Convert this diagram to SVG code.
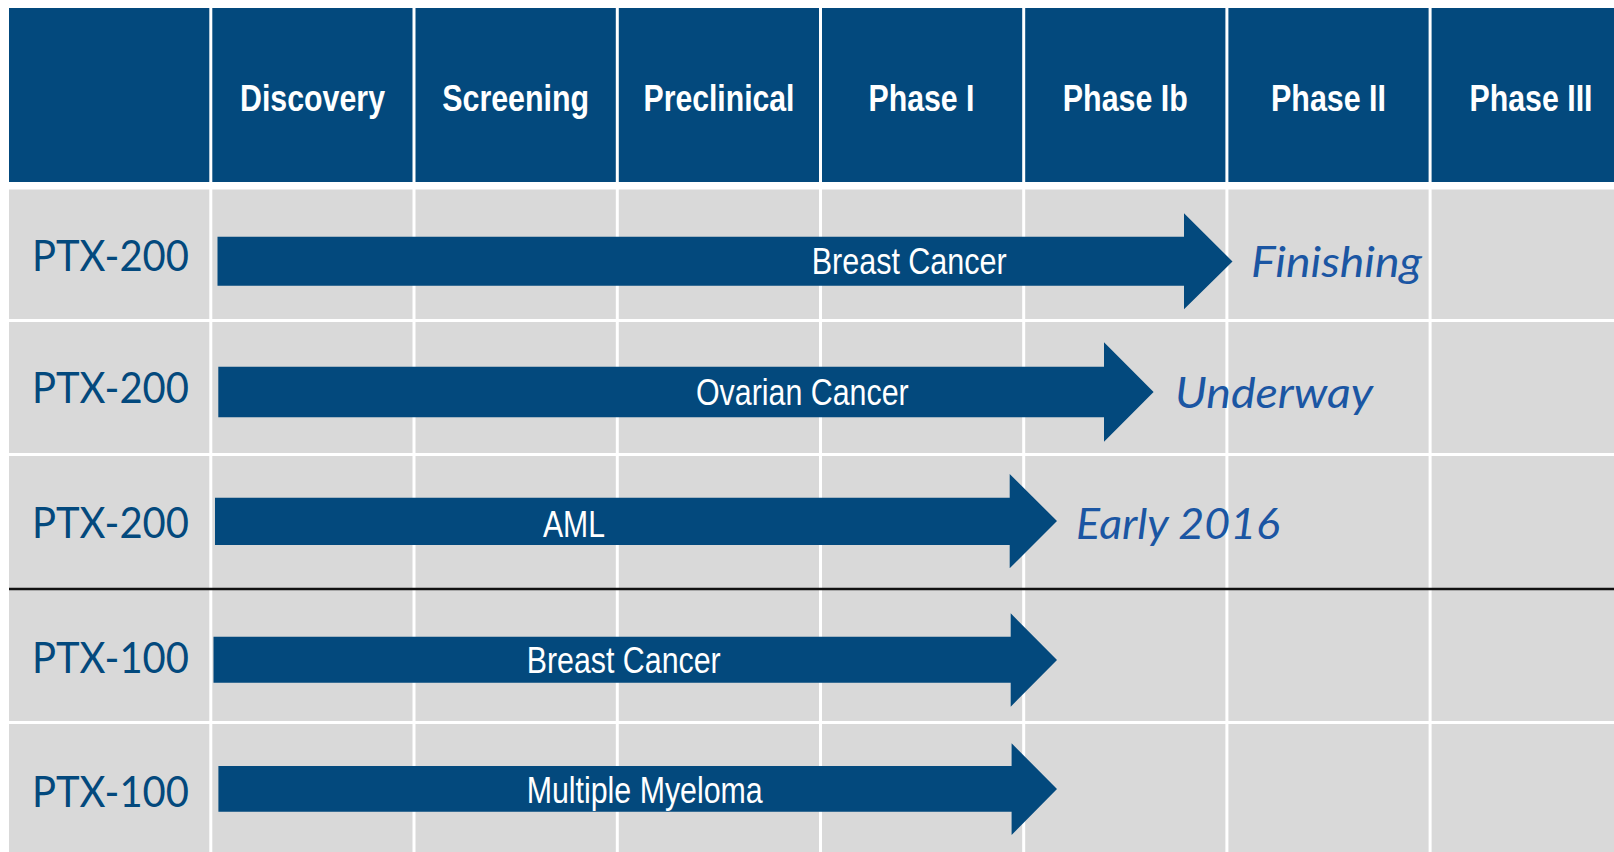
<svg xmlns="http://www.w3.org/2000/svg" width="1614" height="852" viewBox="0 0 1614 852">
<style>
.hdr{fill:#03497d}
.cell{fill:#d9d9d9}
.grid{stroke:#ffffff;stroke-width:3}
.sep{stroke:#111111;stroke-width:2.5}
.bar{fill:#03497d}
.htxt{font-family:"Liberation Sans Narrow","Liberation Sans",Arial,sans-serif;font-weight:bold;font-size:37px;fill:#ffffff;text-anchor:middle}
.rlab{font-family:Lato,"Open Sans","Noto Sans",sans-serif;font-size:42px;fill:#03497d}
.btxt{font-family:"Liberation Sans Narrow","Liberation Sans",Arial,sans-serif;font-size:36px;fill:#ffffff}
.itxt{font-family:Lato,"Open Sans","Noto Sans",sans-serif;font-style:italic;font-size:42px;fill:#1b56a3}
</style>
<rect x="0" y="0" width="1614" height="852" fill="#ffffff"/>
<g id="background">
<rect class="hdr" x="9" y="8" width="1605" height="174"/>
<rect class="cell" x="9" y="189.5" width="1605" height="662.5"/>
<g id="grid-lines">
<line class="grid" x1="210.8" y1="0" x2="210.8" y2="852"/>
<line class="grid" x1="414" y1="0" x2="414" y2="852"/>
<line class="grid" x1="617.3" y1="0" x2="617.3" y2="852"/>
<line class="grid" x1="820.5" y1="0" x2="820.5" y2="852"/>
<line class="grid" x1="1023.7" y1="0" x2="1023.7" y2="852"/>
<line class="grid" x1="1226.9" y1="0" x2="1226.9" y2="852"/>
<line class="grid" x1="1430.1" y1="0" x2="1430.1" y2="852"/>
<line class="grid" x1="0" y1="320.5" x2="1614" y2="320.5"/>
<line class="grid" x1="0" y1="454.5" x2="1614" y2="454.5"/>
<line class="grid" x1="0" y1="722.5" x2="1614" y2="722.5"/>
<line class="sep" x1="9" y1="589" x2="1614" y2="589"/>
</g>
</g>
<g id="header">
<g id="h-discovery"><text class="htxt" x="312.5" y="111" textLength="145" lengthAdjust="spacingAndGlyphs">Discovery</text></g>
<g id="h-screening"><text class="htxt" x="515.7" y="111" textLength="147" lengthAdjust="spacingAndGlyphs">Screening</text></g>
<g id="h-preclinical"><text class="htxt" x="719" y="111" textLength="151" lengthAdjust="spacingAndGlyphs">Preclinical</text></g>
<g id="h-phase1"><text class="htxt" x="921.5" y="111" textLength="106" lengthAdjust="spacingAndGlyphs">Phase I</text></g>
<g id="h-phase1b"><text class="htxt" x="1125.3" y="111" textLength="125" lengthAdjust="spacingAndGlyphs">Phase Ib</text></g>
<g id="h-phase2"><text class="htxt" x="1328.5" y="111" textLength="115" lengthAdjust="spacingAndGlyphs">Phase II</text></g>
<g id="h-phase3"><text class="htxt" x="1531" y="111" textLength="123" lengthAdjust="spacingAndGlyphs">Phase III</text></g>
</g>
<g id="row-labels">
<g id="r1"><text class="rlab" x="32" y="270.7" textLength="157" lengthAdjust="spacingAndGlyphs">PTX-200</text></g>
<g id="r2"><text class="rlab" x="32" y="403.3" textLength="157" lengthAdjust="spacingAndGlyphs">PTX-200</text></g>
<g id="r3"><text class="rlab" x="32" y="538.3" textLength="157" lengthAdjust="spacingAndGlyphs">PTX-200</text></g>
<g id="r4"><text class="rlab" x="32" y="672.7" textLength="157" lengthAdjust="spacingAndGlyphs">PTX-100</text></g>
<g id="r5"><text class="rlab" x="32" y="806.7" textLength="157" lengthAdjust="spacingAndGlyphs">PTX-100</text></g>
</g>
<g id="connectors">
<g id="bar1"><polygon class="bar" points="217.5,236.8 1184,236.8 1184,213.3 1232.5,261.5 1184,309.3 1184,285.8 217.5,285.8"/>
<text class="btxt" x="811.7" y="274" textLength="195" lengthAdjust="spacingAndGlyphs">Breast Cancer</text></g>
<g id="bar2"><polygon class="bar" points="218.3,366.7 1104,366.7 1104,342.3 1153.6,392 1104,441.7 1104,417.3 218.3,417.3"/>
<text class="btxt" x="696" y="405" textLength="212.7" lengthAdjust="spacingAndGlyphs">Ovarian Cancer</text></g>
<g id="bar3"><polygon class="bar" points="215,497.7 1009.7,497.7 1009.7,474 1057,521 1009.7,568.3 1009.7,545 215,545"/>
<text class="btxt" x="543" y="536.7" textLength="62" lengthAdjust="spacingAndGlyphs">AML</text></g>
<g id="bar4"><polygon class="bar" points="213.5,636.7 1010.7,636.7 1010.7,613.3 1057,660 1010.7,706.7 1010.7,682.7 213.5,682.7"/>
<text class="btxt" x="526.7" y="672.7" textLength="194" lengthAdjust="spacingAndGlyphs">Breast Cancer</text></g>
<g id="bar5"><polygon class="bar" points="218.4,766 1011.6,766 1011.6,743.3 1057,789 1011.6,835 1011.6,811.7 218.4,811.7"/>
<text class="btxt" x="526.7" y="802.7" textLength="236" lengthAdjust="spacingAndGlyphs">Multiple Myeloma</text></g>
</g>
<g id="status">
<g id="s1"><text class="itxt" x="1251" y="276.7" textLength="171" lengthAdjust="spacingAndGlyphs">Finishing</text></g>
<g id="s2"><text class="itxt" x="1175" y="408" textLength="198" lengthAdjust="spacingAndGlyphs">Underway</text></g>
<g id="s3"><text class="itxt" x="1076" y="538.7" textLength="204" lengthAdjust="spacingAndGlyphs">Early 2016</text></g>
</g>
</svg>
